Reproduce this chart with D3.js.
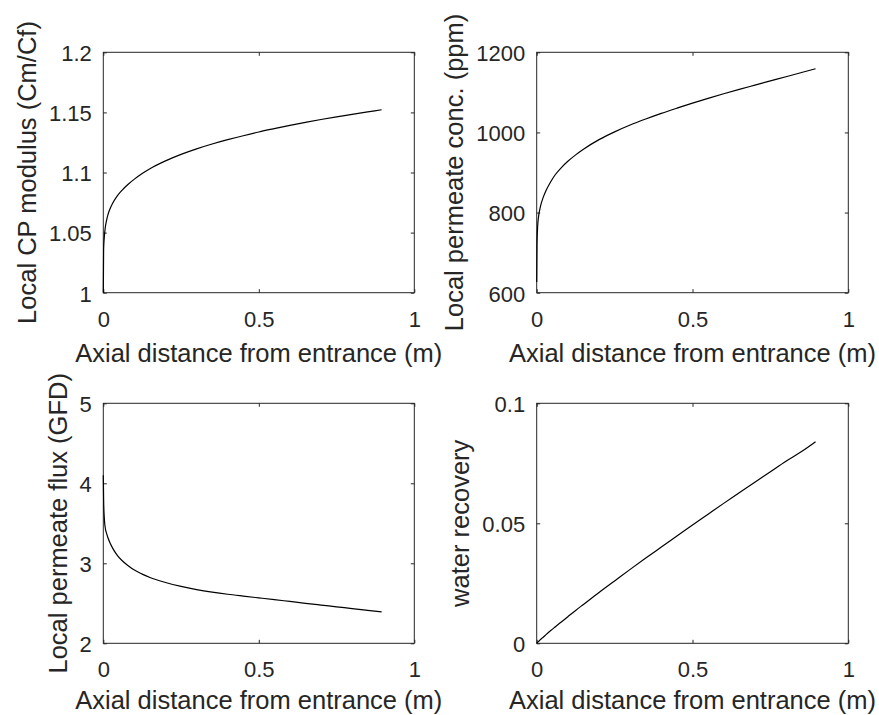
<!DOCTYPE html>
<html>
<head>
<meta charset="utf-8">
<script src="https://cdn.jsdelivr.net/npm/d3@7"></script>
<style>
  html, body { margin: 0; padding: 0; background: #fff; }
  svg { display: block; }
  text { font-family: "Liberation Sans", Arial, Helvetica, sans-serif; fill: #262626; }
</style>
</head>
<body>
<svg id="fig" width="879" height="715"></svg>
<script>
// Axial position along the membrane channel (m)
const distance = [0, 0.001, 0.003, 0.006, 0.01, 0.015, 0.02, 0.03, 0.045, 0.06, 0.08, 0.1,
  0.125, 0.15, 0.2, 0.25, 0.3, 0.35, 0.4, 0.45, 0.5, 0.55, 0.6, 0.65, 0.7, 0.75, 0.8, 0.85, 0.895];

// Local concentration-polarization modulus (Cm/Cf)
const cpModulus = [1.000, 1.036, 1.0455, 1.0535, 1.0596, 1.065, 1.0688, 1.0745, 1.0806, 1.0852, 1.0902, 1.0945,
  1.0992, 1.1032, 1.1097, 1.1151, 1.1197, 1.1237, 1.1273, 1.1306, 1.1337, 1.1365, 1.1392, 1.1417, 1.1441, 1.1463, 1.1484, 1.1504, 1.1522];

// Local permeate concentration (ppm)
const permeateConc = [627, 720, 765, 790, 808, 824, 836, 855, 877, 895, 913, 928,
  944, 958, 982, 1001.5, 1018.5, 1033.5, 1047.5, 1060.5, 1073, 1085, 1096.5, 1107.5, 1118, 1128.5, 1139, 1149.5, 1159];

// Local permeate flux (GFD)
const permeateFlux = [4.10, 3.80, 3.58, 3.45, 3.38, 3.32, 3.27, 3.19, 3.10, 3.035, 2.97, 2.915,
  2.865, 2.822, 2.760, 2.711, 2.672, 2.640, 2.613, 2.590, 2.568, 2.546, 2.523, 2.500, 2.478, 2.456, 2.434, 2.412, 2.392];

// Cumulative water recovery
const waterRecovery = [0, 0.00014, 0.0004, 0.0008, 0.0013, 0.0019, 0.0024, 0.0036, 0.0053, 0.0069, 0.0090, 0.0111,
  0.0137, 0.0162, 0.0212, 0.0260, 0.0308, 0.0355, 0.0401, 0.0447, 0.0493, 0.0538, 0.0583, 0.0627, 0.0671, 0.0715, 0.0759, 0.0799, 0.0840];

// Axis ticks
const xTicks = [0, 0.5, 1];
const cpTicks = [1, 1.05, 1.1, 1.15, 1.2];
const concTicks = [600, 800, 1000, 1200];
const fluxTicks = [2, 3, 4, 5];
const recoveryTicks = [0, 0.05, 0.1];

const xLabel = "Axial distance from entrance (m)";

const panels = [
  { values: cpModulus, yDomain: [1, 1.2], yTicks: cpTicks, yLabel: "Local CP modulus (Cm/Cf)",
    box: { left: 103.3, top: 52.3, width: 311, height: 240.4, xLabelGap: 69 } },
  { values: permeateConc, yDomain: [600, 1200], yTicks: concTicks, yLabel: "Local permeate conc. (ppm)",
    box: { left: 536.7, top: 52.3, width: 311.6, height: 240.4, xLabelGap: 69 } },
  { values: permeateFlux, yDomain: [2, 5], yTicks: fluxTicks, yLabel: "Local permeate flux (GFD)",
    box: { left: 103.3, top: 403.3, width: 311, height: 240, xLabelGap: 66 } },
  { values: waterRecovery, yDomain: [0, 0.1], yTicks: recoveryTicks, yLabel: "water recovery",
    box: { left: 536.7, top: 403.3, width: 311.6, height: 240, xLabelGap: 66 } }
];

const svg = d3.select("#fig");
const TICK = 3.5;
const TICK_FONT = 22;
const LABEL_FONT = 25.5;
const INK = "#262626";

function styleAxis(g) {
  g.select(".domain").remove();
  g.selectAll(".tick line").attr("stroke", INK).attr("stroke-width", 1);
  g.selectAll("text").attr("font-size", TICK_FONT).attr("fill", INK)
    .style("font-family", '"Liberation Sans", Arial, Helvetica, sans-serif');
}

panels.forEach(p => {
  const b = p.box;
  const g = svg.append("g").attr("transform", `translate(${b.left},${b.top})`);

  const x = d3.scaleLinear().domain([0, 1]).range([0, b.width]);
  const y = d3.scaleLinear().domain(p.yDomain).range([b.height, 0]);

  // bottom axis with labels
  const gx = g.append("g").attr("transform", `translate(0,${b.height})`)
    .call(d3.axisBottom(x).tickValues(xTicks).tickFormat(d => String(d))
      .tickSizeInner(-TICK).tickSizeOuter(0));
  styleAxis(gx);
  gx.selectAll("text").attr("y", 34).attr("dy", null);

  // top axis (ticks only)
  const gxt = g.append("g")
    .call(d3.axisTop(x).tickValues(xTicks).tickFormat("").tickSizeInner(-TICK).tickSizeOuter(0));
  styleAxis(gxt);

  // left axis with labels
  const gy = g.append("g")
    .call(d3.axisLeft(y).tickValues(p.yTicks).tickFormat(d => String(d))
      .tickSizeInner(-TICK).tickSizeOuter(0).tickPadding(11.5));
  styleAxis(gy);
  gy.selectAll("text").attr("dy", 8.3);

  // right axis (ticks only)
  const gyr = g.append("g").attr("transform", `translate(${b.width},0)`)
    .call(d3.axisRight(y).tickValues(p.yTicks).tickFormat("").tickSizeInner(-TICK).tickSizeOuter(0));
  styleAxis(gyr);

  // axes box
  g.append("rect")
    .attr("x", 0).attr("y", 0).attr("width", b.width).attr("height", b.height)
    .attr("fill", "none").attr("stroke", INK).attr("stroke-width", 1);

  // data curve
  const line = d3.line()
    .x((d, i) => x(distance[i]))
    .y(d => y(d))
    .curve(d3.curveMonotoneX);
  g.append("path")
    .datum(p.values)
    .attr("d", line)
    .attr("fill", "none")
    .attr("stroke", "#000")
    .attr("stroke-width", 1.2)
    .attr("stroke-linejoin", "round");

  // x label
  g.append("text")
    .attr("x", b.width / 2).attr("y", b.height + b.xLabelGap)
    .attr("text-anchor", "middle")
    .attr("font-size", LABEL_FONT)
    .text(xLabel);

  // y label, placed just outside the widest tick label
  let minX = 0;
  gy.selectAll("text").each(function () {
    minX = Math.min(minX, this.getBBox().x);
  });
  g.append("text")
    .attr("transform", `translate(${minX - 13},${b.height / 2}) rotate(-90)`)
    .attr("text-anchor", "middle")
    .attr("font-size", LABEL_FONT)
    .text(p.yLabel);
});
</script>
</body>
</html>
